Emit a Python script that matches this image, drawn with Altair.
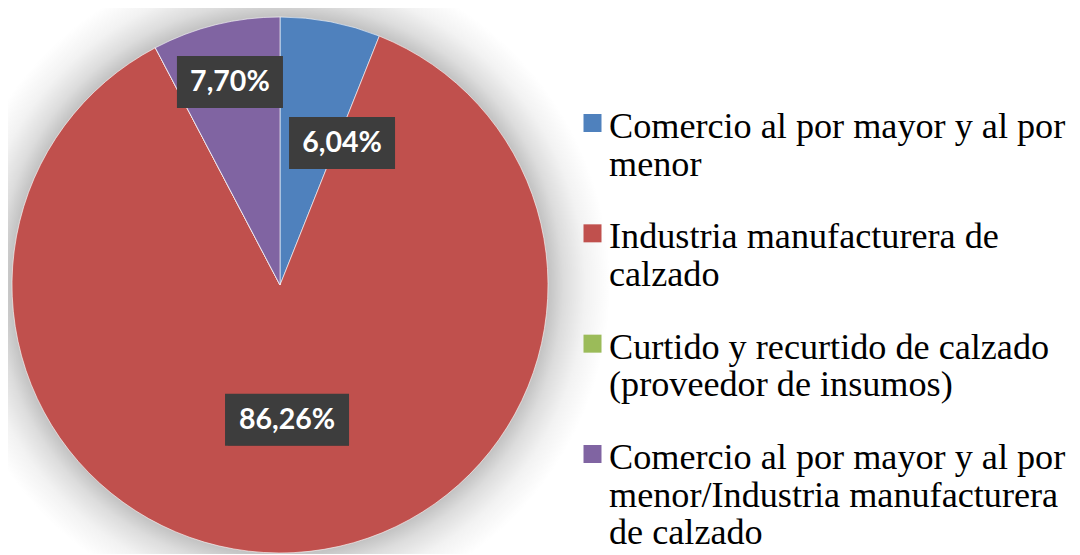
import altair as alt
import pandas as pd

# ---- data -------------------------------------------------------------
categories = [
    "Comercio al por mayor y al por menor",
    "Industria manufacturera de calzado",
    "Curtido y recurtido de calzado (proveedor de insumos)",
    "Comercio al por mayor y al por menor/Industria manufacturera de calzado",
]
shares = [6.04, 86.26, 0.00, 7.70]
legend_labels = [
    "Comercio al por mayor y al por\nmenor",
    "Industria manufacturera de\ncalzado",
    "Curtido y recurtido de calzado\n(proveedor de insumos)",
    "Comercio al por mayor y al por\nmenor/Industria manufacturera\nde calzado",
]
slice_colors = ["#4F81BD", "#C0504D", "#9BBB59", "#8064A2"]

df = pd.DataFrame({
    "cat": categories,
    "value": shares,
    "order": list(range(len(categories))),
    "legend": legend_labels,
    "label": [f"{v:.2f}".replace(".", ",") + "%" for v in shares],
})

# ---- layout -----------------------------------------------------------
W, H = 1064, 546
CX, CY, R = 272, 277, 268
GLOW_R = 330

color = alt.Color("cat:N", scale=alt.Scale(domain=categories, range=slice_colors), legend=None)
base = alt.Chart(df)

glow = base.transform_filter("datum.order == 0").mark_arc(
    radius=GLOW_R, theta=0, theta2=6.2832,
    fill={
        "gradient": "radial",
        "x1": 0.5, "y1": 0.5, "x2": 0.5, "y2": 0.5,
        "r1": R / (2 * GLOW_R), "r2": 0.5,
        "stops": [
            {"offset": 0, "color": "#c2c2c2"},
            {"offset": 0.25, "color": "#dcdcdc"},
            {"offset": 0.6, "color": "#f2f2f2"},
            {"offset": 1, "color": "#ffffff"},
        ],
    },
).encode(x=alt.value(CX), y=alt.value(CY))

pie = base.mark_arc(outerRadius=R, stroke="#ffffff", strokeWidth=1, strokeOpacity=0.6).encode(
    theta=alt.Theta("value:Q", stack=True),
    order=alt.Order("order:Q"),
    color=color,
    x=alt.value(CX),
    y=alt.value(CY),
)

lab = (
    base.transform_filter("datum.value > 0")
    .transform_joinaggregate(total="sum(value)")
    .transform_window(cum="sum(value)", sort=[alt.SortField("order")], frame=[None, 0])
    .transform_calculate(mid="(datum.cum - datum.value / 2) / datum.total * 2 * PI")
    .transform_calculate(
        r="datum.value > 50 ? 135 : (datum.order == 0 ? 155 : 209)",
        a="datum.order == 0 ? datum.mid + 0.222 : datum.mid",
    )
    .transform_calculate(
        px=f"{CX} + datum.r * sin(datum.a)",
        py=f"{CY} - datum.r * cos(datum.a)",
        hw="(18 * length(datum.label) + 16) / 2",
    )
    .transform_calculate(
        x1="datum.px - datum.hw", x2="datum.px + datum.hw",
        y1="datum.py - 26", y2="datum.py + 26",
    )
)

shadow = lab.mark_rect(color="#000000", opacity=0.25, xOffset=3, yOffset=4).encode(
    x=alt.X("x1:Q", scale=None, axis=None), x2="x2:Q",
    y=alt.Y("y1:Q", scale=None, axis=None), y2="y2:Q",
)
box = lab.mark_rect(color="#3d3d3d").encode(
    x=alt.X("x1:Q", scale=None, axis=None), x2="x2:Q",
    y=alt.Y("y1:Q", scale=None, axis=None), y2="y2:Q",
)
text = lab.mark_text(
    font="Lato", fontWeight="bold", fontSize=28.5, color="#ffffff",
    align="center", baseline="middle",
).encode(
    x=alt.X("px:Q", scale=None, axis=None),
    y=alt.Y("py:Q", scale=None, axis=None),
    text="label:N",
)

leg_y = alt.Y(
    "cat:N",
    scale=alt.Scale(type="point", domain=categories, range=[115, 446], padding=0),
    axis=None,
)
leg_sq = base.mark_square(size=324, opacity=1).encode(
    x=alt.value(584.5), y=leg_y, color=color,
)
leg_txt = base.mark_text(
    align="left", baseline="alphabetic", dy=15, lineBreak="\n", lineHeight=37.5,
    font="Liberation Serif", fontSize=36.2, color="#000000",
).encode(x=alt.value(601), y=leg_y, text="legend:N")

chart = (
    alt.layer(glow, pie, shadow, box, text, leg_sq, leg_txt)
    .resolve_scale(x="independent", y="independent")
    .properties(
        width=W, height=H, padding=0,
        autosize=alt.AutoSizeParams(type="none"),
        background="#ffffff",
    )
    .configure_view(stroke=None)
)

chart.save("out.html", embed_options={"renderer": "svg", "actions": False})
